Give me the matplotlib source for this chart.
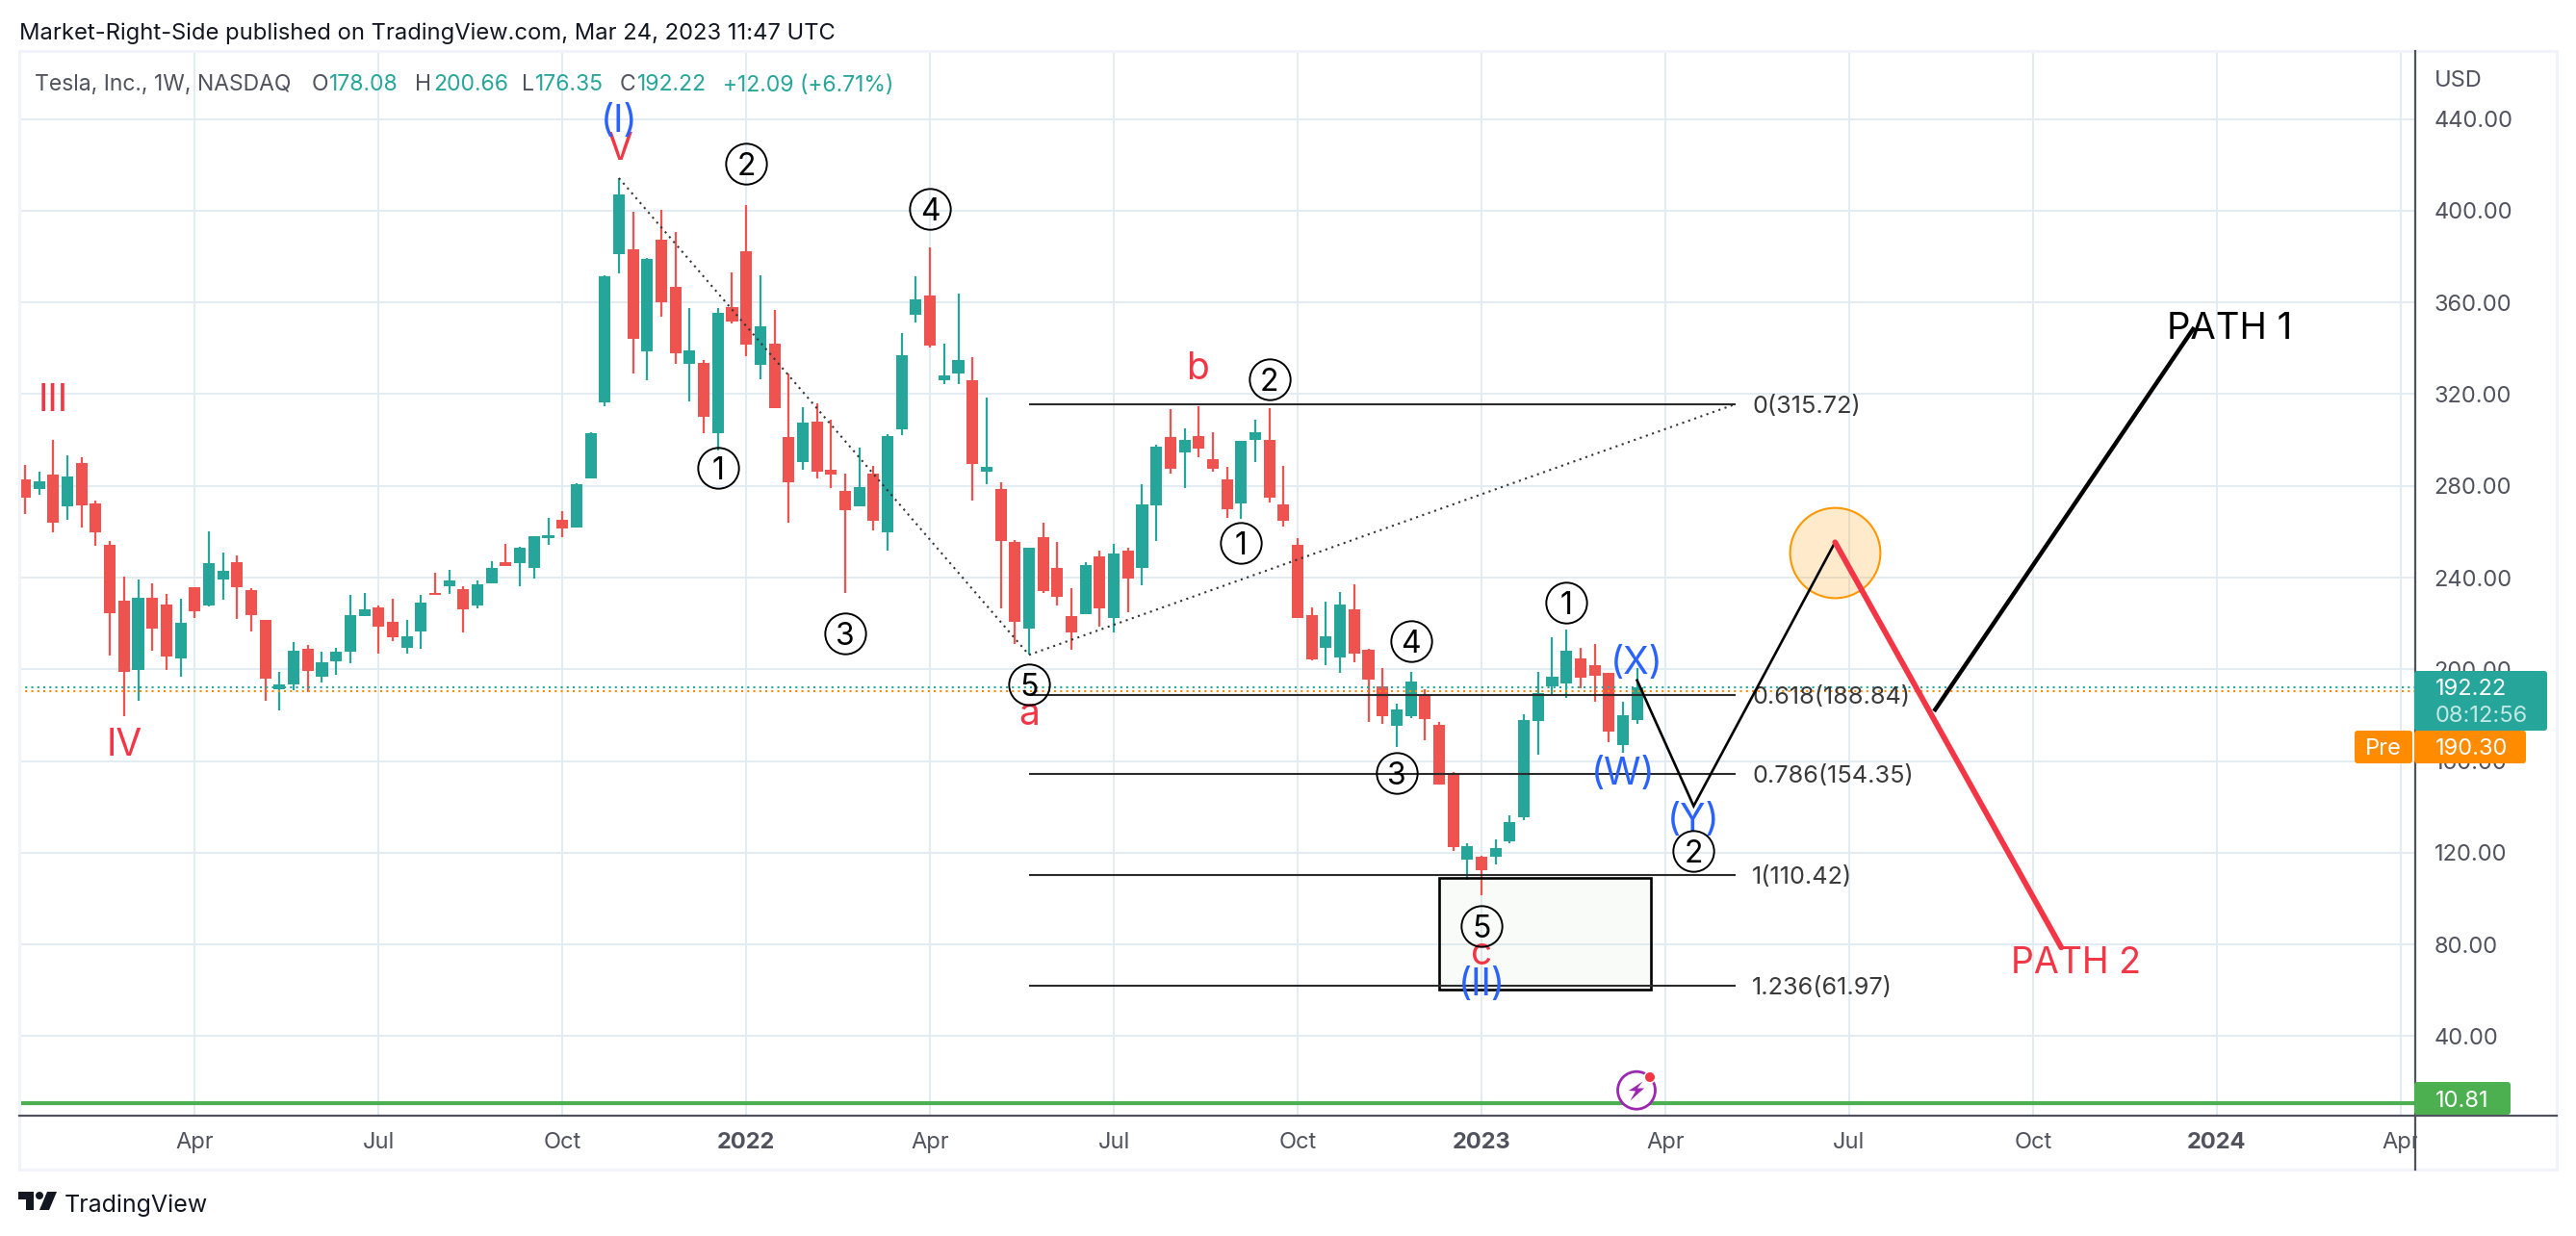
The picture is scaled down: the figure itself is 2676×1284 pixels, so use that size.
import matplotlib
matplotlib.use("Agg")
import matplotlib.pyplot as plt
from matplotlib.patches import FancyBboxPatch, Polygon, Rectangle, Circle

# ---------- data ----------
opens = [282.8,278.7,284.9,271.0,289.9,272.3,254.3,230.0,199.8,231.3,228.3,204.7,235.8,227.9,239.1,246.6,234.5,221.5,191.4,193.4,
         208.9,196.8,203.5,207.6,223.2,226.9,220.8,209.3,216.5,233.3,236.1,235.0,227.9,237.4,246.6,246.3,244.2,257.1,265.2,261.8,
         283.2,316.3,381.0,383.0,338.6,387.4,366.7,333.2,333.6,303.0,357.9,382.3,332.8,342.0,301.2,290.3,308.0,286.9,277.8,271.0,
         285.3,259.7,304.6,354.5,362.9,326.1,329.0,326.1,286.2,278.5,255.5,217.7,257.6,244.2,223.1,224.0,249.2,222.2,251.7,244.2,
         271.4,301.2,294.6,301.6,291.6,282.8,272.3,300.0,300.0,271.9,254.3,223.6,209.4,205.2,226.2,208.5,192.6,175.4,179.6,189.2,
         175.8,154.0,117.0,118.3,118.3,125.0,135.5,177.5,192.6,193.8,204.8,201.8,198.5,167.0,178.08]
highs = [289.2,286.2,300.0,293.3,292.5,273.6,256.0,240.5,239.1,237.4,233.0,230.7,235.8,260.1,250.9,249.6,235.4,221.5,198.9,211.9,
         210.8,207.6,209.3,232.4,233.3,227.9,230.7,221.5,232.4,242.1,243.4,236.1,238.8,247.2,254.7,253.4,258.1,265.9,268.9,281.1,
         303.4,371.8,414.2,399.3,379.3,400.3,390.7,357.6,334.9,357.4,373.1,402.4,371.8,356.7,328.9,314.3,315.9,308.8,285.3,296.6,
         288.7,302.5,346.6,371.4,384.0,342.0,363.8,336.1,318.4,281.5,256.3,253.0,263.9,255.5,235.4,246.7,251.7,254.6,253.0,280.7,
         298.1,313.4,305.0,314.7,303.4,288.2,299.6,308.8,313.9,288.7,257.2,227.0,229.5,233.7,237.1,208.9,200.5,185.0,198.9,191.3,
         177.0,155.2,124.2,118.7,125.8,136.3,180.4,198.9,214.0,217.3,209.4,211.0,198.5,185.9,200.66]
lows = [267.6,276.1,259.7,265.2,261.8,253.9,206.0,179.6,186.3,208.0,199.8,196.8,222.5,227.3,230.3,221.9,216.5,186.3,182.0,191.0,
        190.1,194.2,197.5,202.6,223.2,206.9,212.3,206.9,208.9,232.4,233.0,216.1,226.6,237.4,245.0,236.1,239.5,254.3,257.7,261.8,
        283.2,314.6,372.6,328.9,326.1,353.8,333.2,316.9,303.0,295.5,350.8,336.6,326.5,313.7,263.9,286.9,283.2,278.9,233.3,271.0,
        260.5,251.7,302.1,351.3,340.4,324.3,324.3,273.5,280.7,226.5,211.1,206.3,233.3,227.8,208.4,224.0,218.6,216.1,224.9,236.5,
        256.0,285.3,278.9,292.5,286.2,266.0,265.6,290.3,272.8,262.2,222.4,203.9,201.8,198.5,203.1,177.0,176.2,166.1,178.7,169.1,
        149.8,120.8,108.2,101.5,114.9,124.2,134.2,162.8,189.2,187.5,191.7,185.9,168.2,163.6,176.35]
closes = [274.9,282.1,263.9,284.1,271.6,259.7,224.5,198.9,231.3,217.8,205.6,220.2,225.3,246.3,242.9,235.8,223.6,195.8,193.4,208.0,
          199.2,203.0,207.6,223.6,226.2,218.5,214.0,214.4,229.0,232.4,238.8,226.2,237.1,244.2,245.0,253.0,258.1,258.4,261.4,280.7,
          303.0,371.4,407.0,344.1,378.9,360.0,337.9,339.0,310.2,355.5,351.6,341.6,349.5,313.7,281.5,307.5,286.2,284.8,269.4,279.4,
          264.7,301.6,337.0,361.3,341.1,328.1,334.8,289.6,288.2,256.0,220.6,253.0,234.0,231.5,216.1,245.4,226.5,250.4,239.5,271.9,
          297.1,287.3,300.0,296.2,287.3,269.8,299.6,303.4,274.8,264.7,222.4,204.3,214.4,228.3,206.9,195.5,179.6,182.5,194.7,178.3,
          149.8,122.5,122.9,112.4,122.1,133.4,177.9,189.6,196.8,208.1,196.4,197.2,172.9,180.0,192.22]

x_tick_pos = [12, 25, 38, 51, 64, 77, 90, 103, 116, 129, 142, 155, 168]
x_tick_lab = ["Apr", "Jul", "Oct", "2022", "Apr", "Jul", "Oct", "2023", "Apr", "Jul", "Oct", "2024", "Apr"]
y_tick_val = [40, 80, 120, 160, 200, 240, 280, 320, 360, 400, 440]

fib_levels = [315.72, 188.84, 154.35, 110.42, 61.97]
fib_labels = ["0(315.72)", "0.618(188.84)", "0.786(154.35)", "1(110.42)", "1.236(61.97)"]
fib_start, fib_end = 71, 121

trend_x = [42, 71, 121]
trend_y = [414.2, 206.3, 315.72]
path_x = [114, 118, 128]
path_y = [195.2, 140.4, 255.4]
path1_x = [135, 153.4]
path1_y = [181.7, 349.1]
path2_x = [128, 144]
path2_y = [255.4, 78.7]

circ_txt = ["1", "4", "3", "5", "2", "5", "3", "1", "2", "2", "1", "4"]
circ_x = [109, 98, 97, 103, 118, 71, 58, 86, 88, 51, 49, 64]
circ_y = [229.1, 212.3, 154.7, 88.2, 120.8, 193.5, 215.8, 255.1, 326.5, 420.3, 287.8, 400.9]

red_txt = ["III", "IV", "V", "a", "b", "c"]
red_x = [2, 7, 42, 71, 83, 103]
red_y = [318.6, 168.3, 428.2, 182.0, 332.7, 77.5]
blue_txt = ["(I)", "(II)", "(W)", "(X)", "(Y)"]
blue_x = [42, 103, 113, 114, 118]
blue_y = [440.4, 64.0, 155.7, 204.0, 135.8]

last_close, pre_price, low_line = 192.22, 190.30, 10.81

# ---------- style ----------
W, H = 2676, 1284
UP, DOWN = "#26a69a", "#ef5350"
RED, BLUE, ORANGE = "#f23645", "#2962ff", "#ff9800"
GRID, BORDER, AXC = "#e3ecf2", "#f0f3fa", "#50535e"
FONT = "Inter"
VA = "center_baseline"
plt.rcParams["font.family"] = FONT

fig = plt.figure(figsize=(W / 100, H / 100), dpi=100, facecolor="white")
L, R, T, B = 20, 2509, 53, 1159
ax = fig.add_axes([L / W, 1 - B / H, (R - L) / W, (B - T) / H])
ax.set_xlim(-0.408, 169.03)
ax.set_ylim(5.37, 469.6)
ax.set_xticks(x_tick_pos)
ax.set_xticklabels(x_tick_lab, fontsize=17, color=AXC)
for lab, txt in zip(ax.get_xticklabels(), x_tick_lab):
    if txt.isdigit():
        lab.set_fontweight("bold")
ax.set_yticks(y_tick_val)
ax.set_yticklabels([f"{v:.2f}" for v in y_tick_val], fontsize=17, color=AXC)
ax.yaxis.tick_right()
ax.tick_params(axis="both", length=0)
ax.tick_params(axis="y", pad=14)
ax.tick_params(axis="x", pad=12)
ax.grid(True, color=GRID, lw=1.44)
ax.set_axisbelow(True)
for s in ax.spines.values():
    s.set_visible(False)

# candles
idx = list(range(len(opens)))
colors = [UP if c >= o else DOWN for o, c in zip(opens, closes)]
ax.vlines(idx, lows, highs, colors=colors, lw=1.6, zorder=3)
ax.bar(idx, [c - o for o, c in zip(opens, closes)], bottom=opens, width=0.82, color=colors, lw=0, zorder=3)

# box
ax.add_patch(Rectangle((100, 60.5), 15, 48.7, facecolor=(0.30, 0.69, 0.31, 0.04), edgecolor="black", lw=1.9, zorder=4))

# drawings
ax.plot(trend_x, trend_y, color="#333333", lw=1.5, ls=(0, (1, 2.2)), zorder=4)
for lev, lab in zip(fib_levels, fib_labels):
    ax.plot([fib_start, fib_end], [lev, lev], color="#2b2b2b", lw=1.5, zorder=4, solid_capstyle="butt")
    ax.text(fib_end + 1.15, lev, lab, fontsize=18.2, color="#3a3a3a", va=VA, ha="left", zorder=6)

ax.axhline(last_close, color=UP, lw=1.5, ls=(0, (1, 2)), zorder=5)
ax.axhline(pre_price, color="#ff8c00", lw=1.5, ls=(0, (1, 2)), zorder=5)
ax.axhline(low_line, color="#4caf50", lw=3, zorder=5)

ax.scatter([128], [251], s=67.5 ** 2, facecolor=(1.0, 0.6, 0.0, 0.2), edgecolor=ORANGE, lw=1.5, zorder=5)
ax.plot(path_x, path_y, color="black", lw=1.9, zorder=6, solid_joinstyle="miter")
ax.plot(path1_x, path1_y, color="black", lw=3.2, zorder=6, solid_capstyle="butt")
ax.plot(path2_x, path2_y, color=RED, lw=4.2, zorder=6, solid_capstyle="round")
ax.text(155.9, 350.0, "PATH 1", fontsize=27.5, color="black", ha="center", va=VA, zorder=7)
ax.text(145.0, 73.2, "PATH 2", fontsize=27, color=RED, ha="center", va=VA, zorder=7)

for t, x, y in zip(red_txt, red_x, red_y):
    ax.text(x, y, t, fontsize=28, color=RED, ha="center", va=VA, zorder=7)
for t, x, y in zip(blue_txt, blue_x, blue_y):
    ax.text(x, y, t, fontsize=28, color=BLUE, ha="center", va=VA, zorder=7)
ax.plot(circ_x, circ_y, ls="none", marker="o", ms=30.5, mfc="none", mec="black", mew=1.4, zorder=7)
for t, x, y in zip(circ_txt, circ_x, circ_y):
    ax.text(x, y, t, fontsize=23, color="black", ha="center", va=VA, zorder=7)

# ---------- page furniture in pixel coordinates ----------
ov = fig.add_axes([0, 0, 1, 1], zorder=10)
ov.set_xlim(0, W)
ov.set_ylim(H, 0)
ov.axis("off")
ov.patch.set_alpha(0)

ov.add_patch(Rectangle((2511, 1161), 144, 53, fc="white", ec="none", zorder=1))
ov.add_patch(Rectangle((L, T), 2656 - L, 1215 - T, fc="none", ec=BORDER, lw=2.2, zorder=1))
ov.plot([L, 2656], [B, B], color=AXC, lw=1.6, zorder=2)
ov.plot([R, R], [T, 1215], color=AXC, lw=1.6, zorder=2)
ov.text(2529, 81, "USD", fontsize=17, color=AXC, va=VA, ha="left")


def tag(x0, y0, x1, y1, color):
    ov.add_patch(FancyBboxPatch((x0 + 3, y0 + 3), x1 - x0 - 6, y1 - y0 - 6,
                                boxstyle="round,pad=3,rounding_size=3", fc=color, ec="none", zorder=3))


tag(2508, 697, 2646, 759, "#26a69a")
tag(2508, 759, 2624, 793, "#ff8c00")
tag(2446, 759, 2506, 793, "#ff8c00")
tag(2508, 1124, 2608, 1158, "#4caf50")
ov.text(2530, 713, f"{last_close:.2f}", fontsize=17, color="white", va=VA, zorder=4)
ov.text(2530, 742, "08:12:56", fontsize=17, color="#c4e8e4", va=VA, zorder=4)
ov.text(2530, 776, f"{pre_price:.2f}", fontsize=17, color="white", va=VA, zorder=4)
ov.text(2476, 776, "Pre", fontsize=17, color="white", va=VA, ha="center", zorder=4)
ov.text(2530, 1141, f"{low_line:.2f}", fontsize=17, color="white", va=VA, zorder=4)

# header
ov.text(20, 32, "Market-Right-Side published on TradingView.com, Mar 24, 2023 11:47 UTC",
        fontsize=17.1, color="#131722", va=VA, ha="left")
head = [(36, "Tesla, Inc., 1W, NASDAQ", AXC), (324, "O", AXC), (342, "178.08", UP), (431, "H", AXC), (450, "200.66", UP),
        (542, "L", AXC), (556, "176.35", UP), (644, "C", AXC), (662, "192.22", UP), (751, "+12.09 (+6.71%)", UP)]
for x, t, c in head:
    ov.text(x, 86, t, fontsize=16.5, color=c, va=VA, ha="left")

# earnings icon
ov.add_patch(Circle((1700, 1132.7), 19.5, fc="white", ec="#9c27b0", lw=2, zorder=3))
ov.add_patch(Circle((1714, 1119), 6.5, fc="white", ec="none", zorder=3))
ov.add_patch(Circle((1714, 1119), 5, fc=RED, ec="none", zorder=4))
ov.add_patch(Polygon([(1706.5, 1123.5), (1692, 1133), (1699, 1133.5), (1693.5, 1143.5), (1708, 1130.5), (1701, 1130.5)],
                     closed=True, fc="#9c27b0", ec="none", zorder=4))

# TradingView logo
LOGO = "#131722"
ov.add_patch(Polygon([(19, 1238), (35, 1238), (35, 1257), (27, 1257), (27, 1246), (19, 1246)], closed=True, fc=LOGO, ec="none"))
ov.add_patch(Circle((41, 1242), 4, fc=LOGO, ec="none"))
ov.add_patch(Polygon([(49, 1238), (59, 1238), (51, 1257), (41, 1257)], closed=True, fc=LOGO, ec="none"))
ov.text(67, 1250, "TradingView", fontsize=18, color=LOGO, va=VA, ha="left")

fig.savefig("out.png", dpi=100, facecolor="white")
